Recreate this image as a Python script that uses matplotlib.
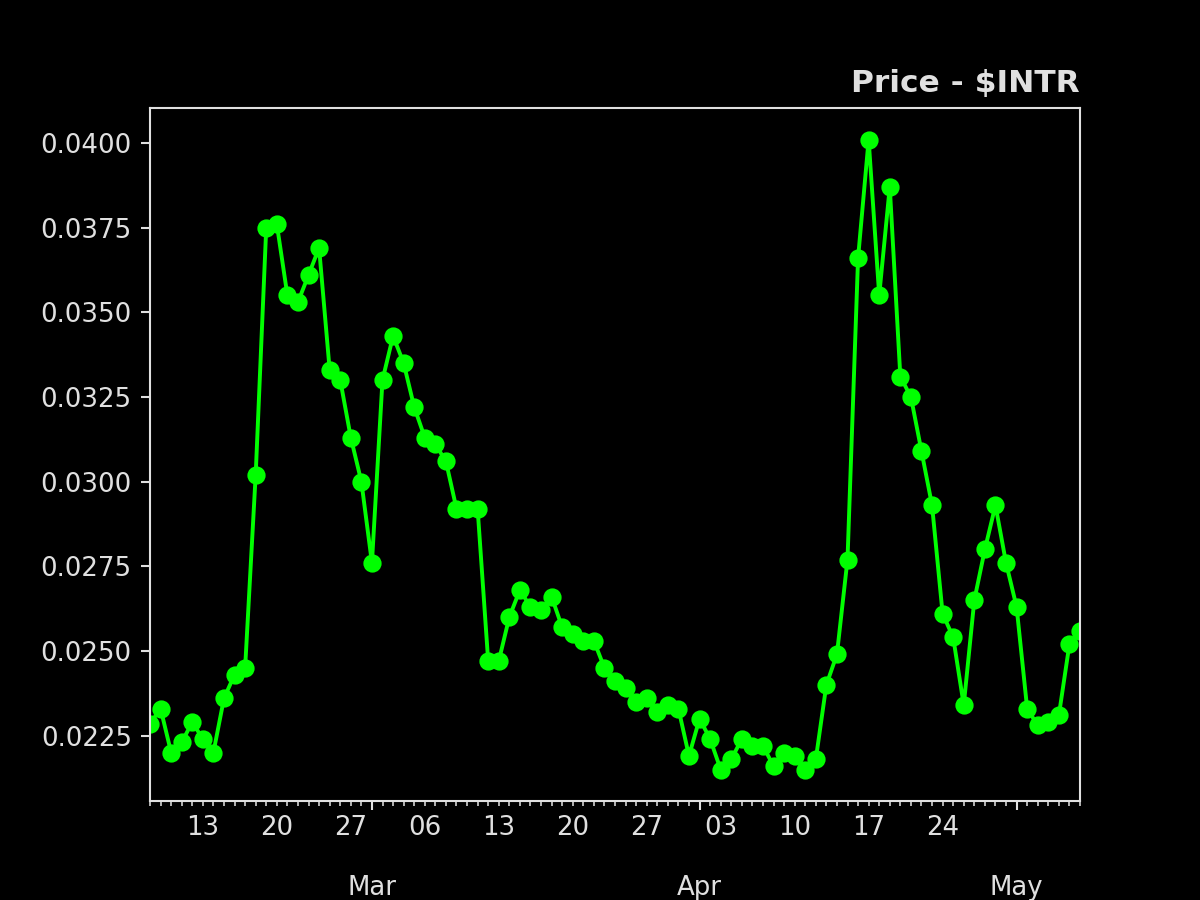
import pandas as pd
import numpy as np
import matplotlib
matplotlib.use('Agg')
import matplotlib.pyplot as plt
import matplotlib.dates as mdates
from matplotlib.ticker import FuncFormatter, FormatStrFormatter

# daily closing prices, 2023-02-08 .. 2023-05-07
start_date = '2023-02-08'
prices = [
    0.02285, 0.0233, 0.0220, 0.0223, 0.0229, 0.0224, 0.0220, 0.0236, 0.0243, 0.0245,
    0.0302, 0.0375, 0.0376, 0.0355, 0.0353, 0.0361, 0.0369, 0.0333, 0.0330, 0.0313,
    0.0300, 0.0276, 0.0330, 0.0343, 0.0335, 0.0322, 0.0313, 0.0311, 0.0306, 0.0292,
    0.0292, 0.0292, 0.0247, 0.0247, 0.0260, 0.0268, 0.0263, 0.0262, 0.0266, 0.0257,
    0.0255, 0.0253, 0.0253, 0.0245, 0.0241, 0.0239, 0.0235, 0.0236, 0.0232, 0.0234,
    0.0233, 0.0219, 0.0230, 0.0224, 0.0215, 0.0218, 0.0224, 0.0222, 0.0222, 0.0216,
    0.0220, 0.0219, 0.0215, 0.0218, 0.0240, 0.0249, 0.0277, 0.0366, 0.0401, 0.0355,
    0.0387, 0.0331, 0.0325, 0.0309, 0.0293, 0.0261, 0.0254, 0.0234, 0.0265, 0.0280,
    0.0293, 0.0276, 0.0263, 0.0233, 0.0228, 0.0229, 0.0231, 0.0252, 0.0256,
]
dates = pd.date_range(start_date, periods=len(prices), freq='D')
title = 'Price - \\$INTR'

plt.style.use('dark_background')
txt = '#e0e0e0'
plt.rcParams['text.color'] = txt
plt.rcParams['axes.edgecolor'] = txt
plt.rcParams['xtick.color'] = txt
plt.rcParams['ytick.color'] = txt
plt.rcParams['axes.labelcolor'] = txt


def monday_label(x, pos):
    d = mdates.num2date(x)
    # only mondays get a day number
    if d.weekday() == 0:
        return d.strftime('%d')
    return ''


fig, ax = plt.subplots(figsize=(6.4, 4.8), dpi=187.5)
ax.plot(dates, prices, color='#00ff00', marker='o', lw=1.5, markersize=6)

ax.set_xlim(dates[0], dates[-1])
ax.xaxis.set_major_locator(mdates.MonthLocator())
ax.xaxis.set_major_formatter(mdates.DateFormatter('%b'))
ax.xaxis.set_minor_locator(mdates.DayLocator())
ax.xaxis.set_minor_formatter(FuncFormatter(monday_label))
ax.tick_params(axis='x', which='major', pad=25)
ax.yaxis.set_major_formatter(FormatStrFormatter('%.4f'))

ax.set_title(title, loc='right', fontweight='bold')
fig.savefig('out.png')
